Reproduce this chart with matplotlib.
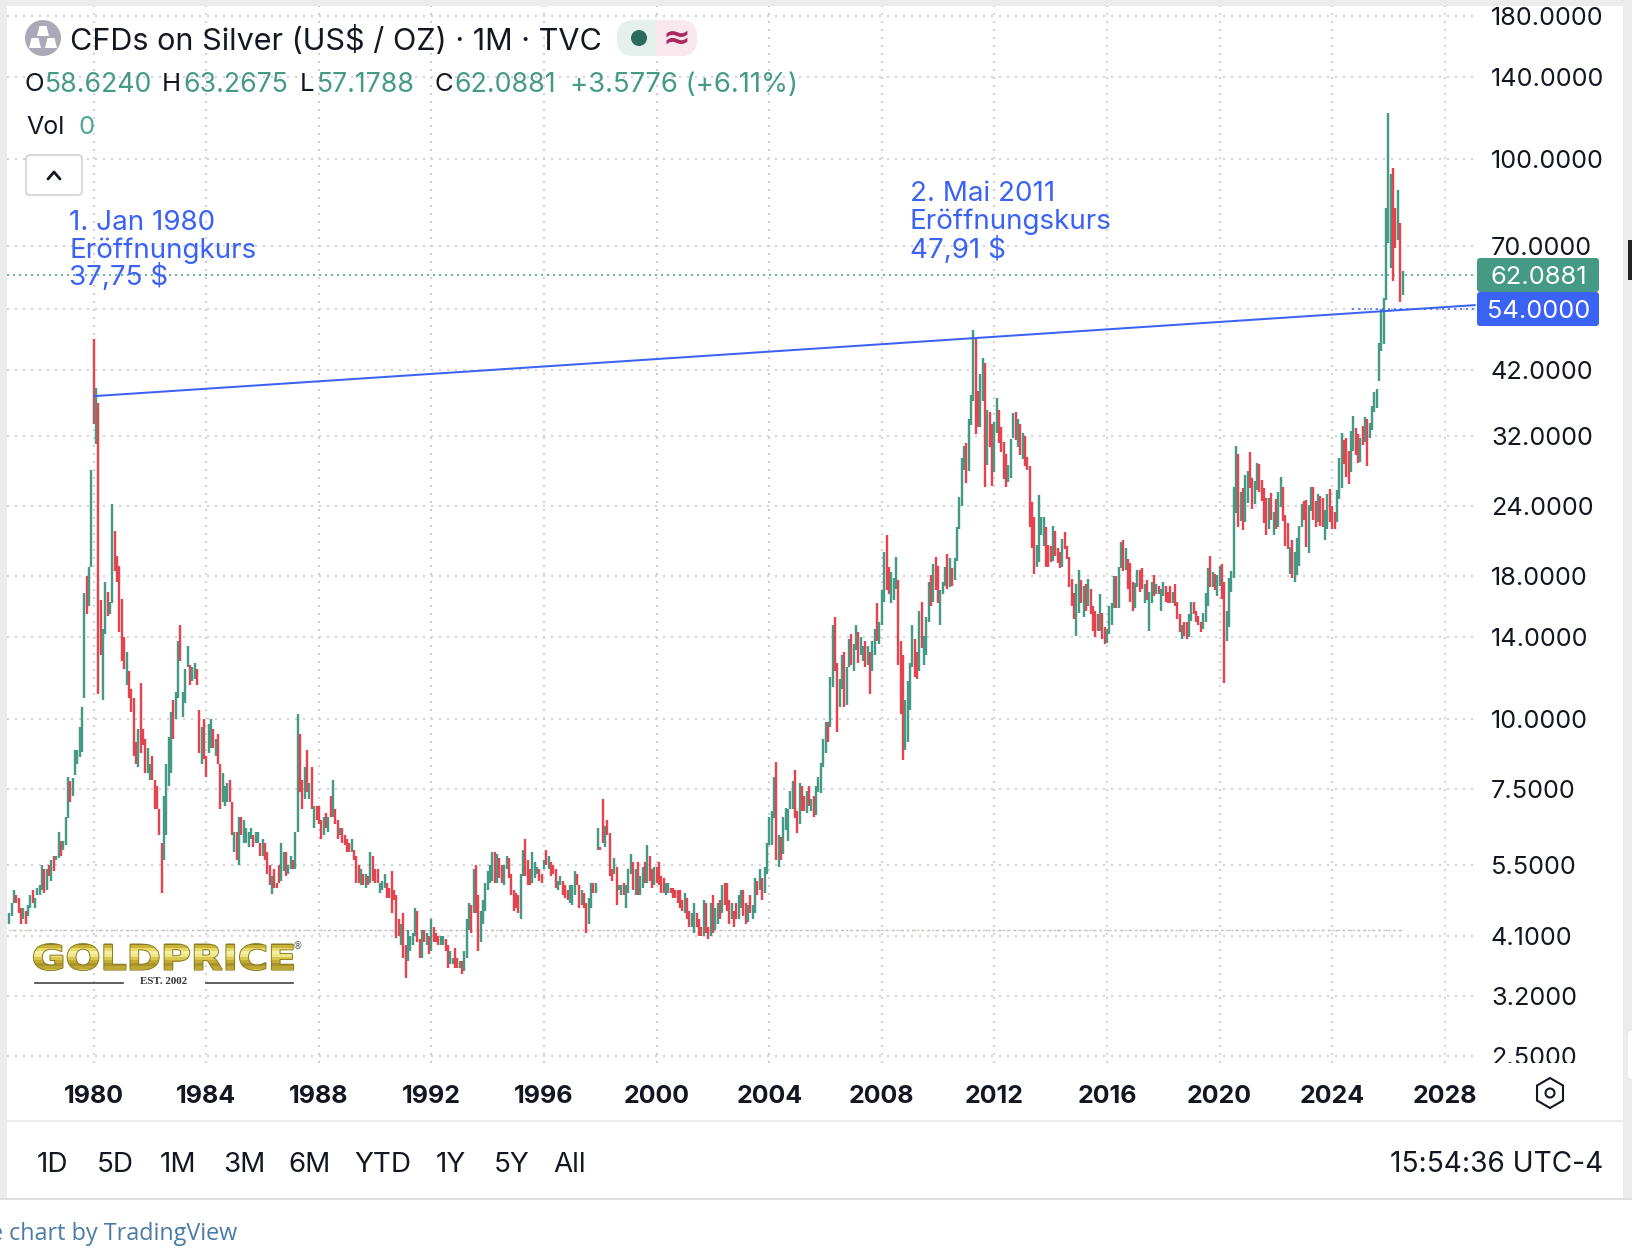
import numpy as np
import matplotlib
matplotlib.use("Agg")
import matplotlib.pyplot as plt
from matplotlib.colors import to_rgba
import matplotlib.patheffects as pe
from matplotlib.patches import Rectangle, FancyBboxPatch, Circle, Polygon, RegularPolygon
from matplotlib.ticker import NullLocator, FixedLocator, FixedFormatter
from matplotlib.transforms import Affine2D, Bbox, ScaledTranslation

FIRST_YEAR = 1977
highs = [
 4.5,4.7,4.95,4.85,4.8,4.6,4.6,4.55,4.65,4.85,4.95,4.8,
 5.0,5.05,5.5,5.4,5.4,5.5,5.6,5.7,5.7,6.3,6.05,6.05,
 6.7,7.9,7.75,7.85,8.8,8.8,9.7,10.5,16.8,18,18.7,27.9,
 47.8,39,36.7,16.3,14.5,17.6,16.9,16.2,24.2,21.7,19.6,18.8,
 16.4,14.0,13.2,12.2,11.3,10.9,9.1,9.6,11.6,9.6,9.2,8.9,
 8.3,8.6,7.8,7.6,6.9,6.0,7.3,8.3,9.3,10.3,10.8,11.2,
 13.8,14.7,11.2,12.3,13.5,12.5,12.4,12.6,12.3,10.4,9.7,10.0,
 8.6,9.8,10,9.6,9.2,9.4,8.3,8.0,7.6,7.7,7.8,7.1,
 6.3,6.3,6.7,6.7,6.6,6.4,6.3,6.4,6.2,6.3,6.3,6.0,
 6.1,6.0,5.8,5.5,5.25,5.4,5.1,5.5,6.0,5.8,5.8,5.5,
 5.7,5.6,6.3,10.2,9.4,7.8,8.2,8.8,7.7,8.2,7.0,7.0,
 7.0,6.6,6.7,6.8,6.7,7.3,7.8,6.9,6.6,6.4,6.4,6.2,
 6.1,6.0,6.1,5.85,5.7,5.5,5.4,5.3,5.3,5.25,5.8,5.7,
 5.4,5.4,5.1,5.15,5.3,5.1,5.0,5.35,4.95,4.85,4.4,4.3,
 4.5,3.95,4.2,4.1,4.15,4.6,4.55,4.05,4.2,4.2,4.15,4.1,
 4.4,4.25,4.15,4.1,4.1,4.1,4.05,3.95,3.85,3.75,3.9,3.75,
 3.7,3.7,3.85,4.4,4.7,4.65,5.4,5.5,4.85,4.55,4.75,5.1,
 5.35,5.5,5.8,5.8,5.75,5.65,5.5,5.5,5.7,5.65,5.3,4.95,
 4.9,4.85,5.3,5.85,6.1,5.6,5.4,5.8,5.55,5.45,5.4,5.3,
 5.6,5.85,5.7,5.55,5.5,5.4,5.15,5.25,5.15,5.05,4.95,5.05,
 5.05,5.35,5.3,5.05,4.95,4.9,4.7,4.8,5.1,5.1,5.1,6.4,
 5.9,7.2,6.45,6.6,6.25,5.4,5.65,5.45,5.05,5.05,5.1,5.05,
 5.4,5.75,5.55,5.4,5.55,5.25,5.45,5.55,5.95,5.7,5.4,5.45,
 5.45,5.55,5.25,5.2,5.1,5.1,5.0,5.0,4.95,4.95,4.95,4.75,
 4.9,4.8,4.55,4.5,4.7,4.5,4.4,4.25,4.75,4.7,4.25,4.7,
 4.85,4.6,4.7,4.75,5.05,5.1,5.1,4.75,4.7,4.55,4.7,4.85,
 4.95,4.95,4.7,4.65,4.85,4.65,5.2,5.15,5.4,5.2,5.45,6.0,
 6.7,6.85,7.9,8.4,6.2,6.15,6.7,6.95,6.9,7.45,7.75,8.1,
 6.85,7.7,7.6,7.3,7.45,7.6,7.2,7.3,7.6,7.9,8.35,9.2,
 9.9,9.9,11.9,14.7,15.2,12.6,11.8,13.0,13.2,12.4,13.9,14.2,
 13.6,14.7,14.3,14.0,13.5,13.8,13.5,13.2,13.8,14.5,16.1,14.9,
 17.0,19.9,21.3,18.7,18.3,17.9,19.5,17.7,13.8,13.0,10.8,11.7,
 12.6,14.7,13.9,13.2,15.6,16.2,14.1,15.2,17.6,18.1,18.9,19.5,
 18.8,17.0,17.6,18.7,19.7,19.4,18.6,19.4,22,24.9,29.3,30.7,
 31.1,34.3,38,49.5,48,38.5,41.3,44.2,43.2,35.6,35.3,33.6,
 34,37.5,35.6,33.2,31.2,29.8,28.4,31.7,35.2,35.3,34.3,33.7,
 32.4,32.1,29.4,28.3,24.4,23,20.5,25.1,23,23,22,20.5,
 20.4,22.1,21.7,20.2,19.9,21,21.6,20.4,19.5,17.8,16.8,17.4,
 18.5,17.7,17.3,17.4,17.8,17.1,15.9,15.6,15.4,16.7,15.5,14.6,
 14.5,15.9,16.1,18,18,18.7,20.7,20.9,20.2,19.3,19,17.6,
 17.5,18.5,18.5,18.6,17.4,17.7,16.9,17.6,18.1,17.4,17.3,17.1,
 17.6,17.3,16.9,17.3,16.9,17.4,16.2,15.4,14.7,14.9,14.9,15.4,
 16.2,16.2,15.6,15.3,14.9,15.5,16.8,18.6,19.6,18.3,18.2,18.1,
 18.8,18.9,17.6,15.6,17.9,18.4,26,30.7,29.7,25.5,25.9,27.3,
 27.8,30,27,26.6,28.7,28.6,26.7,25.9,24.8,24.8,25.3,23.4,
 24.7,25.5,27.1,26,23.2,22.4,20.3,20.9,19.9,21.1,22.1,24.2,
 24.5,24.6,24.1,26,26,24.5,25.2,25,24.8,23.6,25.2,25.8,
 24,23.4,25.7,29.3,32.4,31.5,31.8,30.1,32.7,34.8,33.1,32.3,
 31.8,33.4,34.6,34.3,33.8,36.3,38.4,38.9,47,54,56.5,82,
 121,94,96.4,82,88.2,76.8,63.27,
]
lows = [
 4.3,4.45,4.7,4.7,4.5,4.3,4.4,4.3,4.45,4.6,4.7,4.6,
 4.85,4.85,4.95,4.9,4.95,5.25,5.15,5.35,5.6,5.65,5.7,5.85,
 5.95,6.65,7.1,7.3,7.95,8.3,8.55,8.75,10.9,15.4,15.9,18.7,
 33.6,31,11.1,13.0,10.8,14.2,15.3,15.4,16.1,18.4,17.6,14.3,
 12.7,12.3,11.5,10.9,10.3,8.6,8.3,8.2,8.7,9.0,8.0,8.0,
 7.8,7.8,6.9,6.9,6.2,4.9,5.6,6.2,7.6,8.0,9.2,10.0,
 10.9,12.7,10.1,10.7,12.4,11.5,11.7,11.8,11.5,8.7,8.3,8.5,
 7.9,8.7,8.9,8.9,8.6,8.3,6.9,7.1,7.0,7.1,7.1,6.2,
 5.8,5.6,5.5,6.2,6.0,6.0,5.9,6.1,5.9,6.0,6.0,5.7,
 5.7,5.6,5.3,5.05,4.87,5.0,5.0,5.1,5.15,5.35,5.25,5.3,
 5.4,5.4,5.4,6.3,7.4,6.9,7.2,7.4,7.2,6.9,6.4,6.6,
 6.5,6.1,6.2,6.4,6.3,6.7,6.7,6.5,6.1,6.2,6.0,5.95,
 5.8,5.8,5.8,5.6,5.1,5.1,5.05,5.05,5.0,5.05,5.1,5.15,
 5.1,5.1,4.9,4.95,5.0,4.8,4.8,4.5,4.75,4.07,4.1,3.95,
 3.75,3.45,3.7,3.85,3.95,4.1,4.0,3.75,3.75,4.0,3.95,3.8,
 3.85,4.0,4.0,3.95,3.95,3.95,3.85,3.6,3.65,3.65,3.6,3.6,
 3.6,3.5,3.55,3.75,4.2,4.15,4.5,4.5,3.85,4.0,4.3,4.55,
 4.95,5.1,5.15,5.1,5.1,5.2,5.1,5.05,5.4,5.2,4.85,4.55,
 4.6,4.5,4.4,5.25,5.25,5.05,5.05,5.1,5.2,5.3,5.15,5.1,
 5.4,5.5,5.4,5.25,5.3,5.0,4.95,5.05,4.85,4.8,4.75,4.7,
 4.65,4.85,5.05,4.6,4.65,4.6,4.15,4.3,4.6,4.9,4.9,5.85,
 5.85,6.0,5.9,6.2,5.25,5.15,5.3,4.65,4.95,4.85,4.85,4.6,
 4.9,5.3,4.95,4.85,4.85,4.85,5.0,5.1,5.1,5.15,5.0,5.05,
 5.1,5.05,4.9,4.9,4.85,4.9,4.9,4.8,4.8,4.7,4.6,4.55,
 4.5,4.4,4.25,4.25,4.15,4.25,4.1,4.1,4.1,4.15,4.05,4.1,
 4.15,4.2,4.3,4.4,4.5,4.65,4.55,4.3,4.4,4.25,4.4,4.4,
 4.6,4.45,4.3,4.35,4.5,4.4,4.5,4.85,4.95,4.75,4.9,5.3,
 5.95,5.95,6.65,5.6,5.45,5.6,5.75,6.35,6.05,6.9,6.9,6.65,
 6.25,6.5,6.85,6.85,6.8,7.0,6.85,6.7,6.75,7.4,7.37,8.2,
 8.7,9.1,9.7,11.4,12.2,9.5,10.5,11.3,10.5,10.6,12.4,12.5,
 12.2,13.3,12.6,13.0,12.7,12.4,12.5,11.1,12.2,13.0,13.8,13.6,
 14.7,16.2,17.0,16.7,16.1,16.3,17.1,12.5,10.2,8.45,8.8,9.1,
 10.4,12.4,11.9,11.8,12.2,13.4,12.5,13.0,14.9,15.9,16.2,17.0,
 16.1,14.7,16.7,17.3,17.1,17.2,17.3,17.7,19.2,21.9,24.0,27.9,
 26.4,27.8,33.5,37,32.3,33.2,33.3,37,26,28.4,30.6,26.1,
 27.6,32.5,31.1,30,26.8,26,26.5,27,31.8,31.5,30.6,29.6,
 29.1,28.3,27.9,22,20.2,18.2,18.7,19.1,21.3,20.4,18.7,18.7,
 19.1,19.2,19.6,19.0,18.6,18.7,20.1,19.3,17.2,15.9,15.1,14.1,
 15.5,16.1,15.2,15.6,15.9,15.4,14.4,14.0,14.4,14.4,13.9,13.6,
 13.7,14.2,14.7,15.8,15.8,15.8,18.6,18.4,18.5,17.1,16.2,15.6,
 15.8,17.2,16.9,17.1,16.1,16.3,14.4,16.1,16.6,16.7,16.7,15.6,
 16.6,16.2,16.1,16.1,16.1,15.9,15.1,14.3,13.9,14.1,13.9,14,
 15,15.4,14.9,14.7,14.3,14.5,14.9,15.9,17.2,17.2,17,16.6,
 17.3,16.4,11.6,13.8,14.6,16.9,17.9,23.3,22,22.6,21.8,22.5,
 24.3,25.9,23.7,24.2,25.7,25.5,24.5,22.4,21.3,21.9,22.7,21.3,
 21.9,22.0,23.9,22.6,20.4,20.1,18.2,17.9,17.6,18.1,18.8,22,
 22.7,20.3,19.8,23.5,22.7,22,22.5,22.1,22.0,20.9,21.9,22.5,
 21.9,21.9,22.5,24.7,25.9,28.6,27.1,26.3,27.6,30.1,29.6,28.7,
 28.8,30.9,31.2,28.3,31.8,32.8,35.4,36,40.1,45.4,46.7,56,
 71,63.9,60.7,69.4,71.7,55.6,57.18,
]
directions = (
 "GGGRRRGRGGRG" "GGGRGRGRGGRG" "GGRGGGGGGRGG" "RGRRGGRGGRRR"
 "RRGRRRRGRRRG" "GRRRRRGGGGRG" "GRGGGRGGRRGR" "RGGRGRRGGGRR"
 "GRGRGGGGRGGR" "GRRRGRRRGGRG" "GRGGRRGRGRGR" "RRGRGRGRRGRR"
 "RRGRRRGRGRGR" "RRGGGRRRRRRG" "RRGGGGRRGRGR" "GRRRGGRRGGRR"
 "GRGGGRGRRGGG" "GGGRGRRGGRRR" "RRGGRRRGGGRR" "GRGRRRGGRRRG"
 "GGRRGRRGGRGG" "RRGRRRGRGGRG" "GGRGRGGRGRRG" "RRRRGGRRRRRR"
 "GRRGGRRRGRRG" "RGGRGRRRGRRG" "GRRGRGGRGRGG" "GGGRGRGGGGGR"
 "RGRRGRGRGGGG" "GRGGRRGGRGGR" "GGRGGRGRGGRG" "GGRRGGGRRRGG"
 "GGRRGRGGGRGR" "RGGGRGRGGGGG" "RGGGRRGGRGRR" "GGRRRRGGGRGR"
 "GRRRRRGGGGRR" "RGRRRGRRRRRG" "GRGRGRRRRGRR" "GGGGRGGRGRRR"
 "GGRRGRGGRGRG" "GRRRGRRRGRRG" "GRRRRGGGRGRG" "GRRGGGGGRGRG"
 "GRRGGRRRRGRG" "RGGRRRGRGGGG" "RRGGRRGRRGGR" "RRGGGRRRGGRR"
 "GRGRGGGGGGGG" "GGRRGRG"
)
year_ticks = [1980,1984,1988,1992,1996,2000,2004,2008,2012,2016,2020,2024,2028]
price_ticks = [180,140,100,70,54,42,32,24,18,14,10,7.5,5.5,4.1,3.2,2.5]
last_close = 62.0881
level_price = 54.0
trend_years = [1980.0, 2029.1]
trend_prices = [37.75, 54.9]
level_years = [2024.72, 2029.1]
hl_level = 4.2
hl_years = [1977.0, 2026.5]
ohlc_labels = [("O","58.6240"),("H","63.2675"),("L","57.1788"),("C","62.0881")]
change_text = "+3.5776 (+6.11%)"
ranges = ["1D","5D","1M","3M","6M","YTD","1Y","5Y","All"]

GREEN = "#459A85"; RED = "#E5444F"; BLUE = "#3A62F5"; GRID = "#D2D2D2"; BAR_GREY = "#ECECEC"; INK = "#131722"
W, H = 1632, 1258
px = 72/100
plt.rcParams["font.family"] = ["Inter", "DejaVu Sans"]
fig = plt.figure(figsize=(W/100, H/100), dpi=100, facecolor="white")

# chart area
L_, R_, T_, B_ = 7, 1476, 6, 1063
ax = fig.add_axes([L_/W, 1-B_/H, (R_-L_)/W, (B_-T_)/H])
ax.set_yscale("log")
ax.set_xlim(1976.92, 2029.11)
ax.set_ylim(2.432, 187.8)
for s in ax.spines.values():
    s.set_visible(False)
ax.yaxis.tick_right()
ax.yaxis.set_major_locator(FixedLocator(price_ticks))
# the 54 level is labelled by the blue price tag that sits on top of it
ax.yaxis.set_major_formatter(FixedFormatter(["" if p == level_price else f"{p:.4f}" for p in price_ticks]))
ax.yaxis.set_minor_locator(NullLocator())
ax.set_xticks(year_ticks)
ax.set_xticklabels([str(y) for y in year_ticks], fontweight="bold", fontsize=18, color=INK)
ax.tick_params(axis="y", length=0, pad=15*px, labelsize=18.2, labelcolor=INK)
ax.tick_params(axis="x", length=0, pad=22*px)
ax.set_axisbelow(True)
ax.grid(True, color=GRID, lw=2*px, linestyle=(0, (1, 3)))

years = FIRST_YEAR + np.arange(len(highs))/12
cols = [GREEN if d == "G" else RED for d in directions]
ax.vlines(years, lows, highs, colors=cols, lw=2.4*px, capstyle="butt", antialiased=True, zorder=3)

ax.plot(trend_years, trend_prices, color=BLUE, lw=2*px, zorder=4, solid_capstyle="butt")
ax.axhline(last_close, color=GREEN, lw=1.5*px, linestyle=(0, (1.4, 2.6)), zorder=2)
ax.plot(level_years, [level_price]*2, color=BLUE, lw=1.5*px, linestyle=(0, (1.4, 2.6)), zorder=4)
ax.plot(hl_years, [hl_level]*2, color="#F2A3A3", lw=1.3*px, linestyle=(0, (1.5, 2.4)), zorder=2)
ax.plot(hl_years, [hl_level]*2, color="#8FCFC4", lw=1.3*px, linestyle=(2.7, (1.5, 4.0)), zorder=2)

# overlay in pixel coordinates for the widget chrome
ov = fig.add_axes([0, 0, 1, 1], facecolor="none")
ov.set_xlim(0, W); ov.set_ylim(H, 0); ov.axis("off")

def rect(x0, y0, x1, y1, c, z=1):
    ov.add_patch(Rectangle((x0, y0), x1-x0, y1-y0, fc=c, ec="none", zorder=z))
def txt(x, y, s, size=17, color=INK, ha="left", **kw):
    return ov.text(x, y+2.5, s, fontsize=size, color=color, ha=ha, va="center", zorder=6, **kw)

rect(0, 0, W, 6, BAR_GREY)
rect(0, 0, 7, 1199, BAR_GREY)
rect(1623, 0, W, 1199, BAR_GREY)
rect(1628, 240, W, 280, "#222222", 2)
ov.add_patch(FancyBboxPatch((1628, 1031), 20, 48, boxstyle="round,pad=0,rounding_size=4", fc="white", ec="none", zorder=2))
rect(1476, 1063, 1623, 1080, "white", 2)   # the price scale ends here and cuts its last label
rect(7, 1120, 1623, 1122, BAR_GREY)
rect(0, 1198, W, 1200, "#DEDEDE")

# header
ov.add_patch(Circle((43, 38), 18, fc="#ABA9B7", ec="none", zorder=5))
for (cx, cy) in [(43, 31), (35, 43), (51, 43)]:
    ov.add_patch(Polygon([(cx-6, cy+5), (cx+6, cy+5), (cx+3.5, cy-5), (cx-3.5, cy-5)], fc="white", ec="none", zorder=6))
txt(70, 38, "CFDs on Silver (US$ / OZ) \u00b7 1M \u00b7 TVC", size=22)
ov.add_patch(FancyBboxPatch((617, 20), 80, 36, boxstyle="round,pad=0,rounding_size=17", fc="#E3F0EC", ec="none", zorder=4))
pink = FancyBboxPatch((617, 20), 80, 36, boxstyle="round,pad=0,rounding_size=17", fc="#FBE7EE", ec="none", zorder=4.1)
ov.add_patch(pink)
pink.set_clip_path(Rectangle((656, 0), 60, 80, transform=ov.transData))
ov.add_patch(Circle((639, 38), 8, fc="#2A6B5A", ec="none", zorder=5))
txt(676, 36, "\u2248", size=24, color="#A8285F", ha="center", fontweight="bold", family="DejaVu Sans")

label_x = [(24, 45), (162, 183), (300, 317), (434, 454)]
for (k, v), (x0, x1) in zip(ohlc_labels, label_x):
    txt(x0, 82, k, size=18.5)
    txt(x1, 82, v, size=19.2, color=GREEN)
txt(570, 82, change_text, size=19.8, color=GREEN)
txt(26, 125, "Vol", size=18)
txt(79, 125, "0", size=18.5, color="#4FA89B")
ov.add_patch(FancyBboxPatch((26, 155), 56, 40, boxstyle="round,pad=0,rounding_size=4", fc="white", ec="#D8D8D8", lw=1.5, zorder=5))
ov.plot([48, 54, 60], [179, 172, 179], color=INK, lw=2, zorder=6, solid_capstyle="round")

# annotations
for y, s in zip((220, 248, 275), ("1. Jan 1980", "Eröffnungkurs", "37,75 $")):
    txt(69, y, s, size=20, color=BLUE)
for y, s in zip((191.5, 219.5, 247.5), ("2. Mai 2011", "Eröffnungskurs", "47,91 $")):
    txt(910, y, s, size=20, color=BLUE)

# price tags
ov.add_patch(FancyBboxPatch((1477, 258), 122, 34, boxstyle="round,pad=0,rounding_size=3", fc=GREEN, ec="none", zorder=5))
ov.add_patch(FancyBboxPatch((1477, 292), 122, 34, boxstyle="round,pad=0,rounding_size=3", fc=BLUE, ec="none", zorder=5))
txt(1539, 275, f"{last_close:.4f}", size=18.4, color="white", ha="center")
txt(1539, 309, f"{level_price:.4f}", size=18.4, color="white", ha="center")


class GoldStretch(pe.AbstractPathEffect):
    """Squash the glyphs about a point and fill them in horizontal gold bands."""
    def __init__(self, sx, sy, cx, cy, y0, y1, bands):
        super().__init__()
        self.sx, self.sy, self.cx, self.cy = sx, sy, cx, cy
        self.y0, self.y1, self.bands = y0, y1, bands

    def draw_path(self, renderer, gc, tpath, affine, rgbFace=None):
        aff = affine + Affine2D().translate(-self.cx, -self.cy).scale(self.sx, self.sy).translate(self.cx, self.cy)
        g = renderer.new_gc()
        g.copy_properties(gc)
        g.set_foreground("#8A7A1C")
        g.set_linewidth(1.4)
        renderer.draw_path(g, tpath, aff, to_rgba("#8A7A1C"))
        g.restore()
        n = len(self.bands)
        for i, c in enumerate(self.bands):
            top = self.y1 - (self.y1 - self.y0) * i / n
            bot = self.y1 - (self.y1 - self.y0) * (i + 1) / n
            g = renderer.new_gc()
            g.copy_properties(gc)
            g.set_linewidth(0)
            g.set_clip_rectangle(Bbox([[0, bot], [W, top]]))
            renderer.draw_path(g, tpath, aff, to_rgba(c))
            g.restore()


# logo
LOGO_Y = 960
logo = ov.text(164, LOGO_Y, "GOLDPRICE", fontsize=31, color="#D8C74E", ha="center", va="center",
               fontweight="bold", family="DejaVu Sans", zorder=6)
logo.set_path_effects([GoldStretch(0.955, 0.8, 164, H-LOGO_Y, H-LOGO_Y-15, H-LOGO_Y+15,
                                   ["#C9B43A", "#E6DA6C", "#F5EFA4", "#EFE68A", "#D9C850", "#C2AC33", "#A8942A", "#BDA836", "#D9C64C", "#9A8822"])])
ov.text(297, 946, "\u00ae", fontsize=7, color="#555555", ha="center", va="center", family="DejaVu Sans", zorder=6)
ov.plot([35, 123], [982.5, 982.5], color="#444444", lw=1.2, zorder=6)
ov.plot([206, 293], [982.5, 982.5], color="#444444", lw=1.2, zorder=6)
ov.text(164, 982, "EST. 2002", fontsize=7.8, color="#333333", ha="center", va="center", family="Liberation Serif", fontweight="bold", zorder=6)

# settings icon
ov.add_patch(RegularPolygon((1550, 1093), 6, radius=15, orientation=0, fc="none", ec=INK, lw=1.5, zorder=6))
ov.add_patch(Circle((1550, 1093), 4.5, fc="none", ec=INK, lw=1.5, zorder=6))

# footer row
for x, s in zip((37, 97, 160, 223, 288, 354, 436, 494, 553), ranges):
    txt(x, 1162, s, size=20)
txt(1603, 1162, "15:54:36 UTC-4", size=20.2, ha="right")
txt(237, 1231, "e chart by TradingView", size=16.8, color="#4B7BA6", ha="right", family="Open Sans")

assert len(highs) == len(lows) == len(directions)
fig.savefig("out.png", dpi=100, facecolor="white")
